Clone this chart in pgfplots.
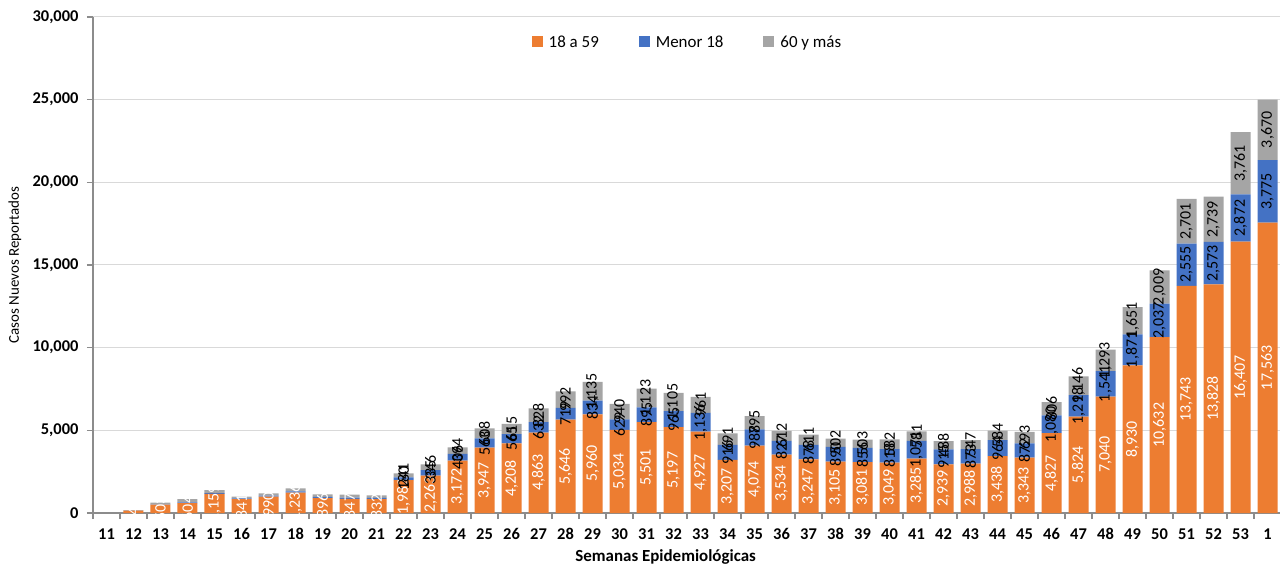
\documentclass[border=0pt]{standalone}
\usepackage{fontspec}
\setmainfont{Carlito}
\usepackage{pgfplots}
\usepackage{pgfplotstable}
\pgfplotsset{compat=1.18}
\definecolor{cOr}{HTML}{ED7D31}
\definecolor{cBl}{HTML}{4472C4}
\definecolor{cGr}{HTML}{A5A5A5}
\definecolor{axgray}{HTML}{8C8C8C}
\definecolor{gridc}{HTML}{D9D9D9}
\newcommand\lbl{\fontsize{16pt}{16pt}\selectfont}

\pgfplotstableread{
x a b c la lb lc
0 0 0 0 {} {} {}
1 143 5 25 143 {} {}
2 503 20 100 503 {} {}
3 604 40 200 604 {} {}
4 1159 40 190 1,159 {} {}
5 841 40 105 841 {} {}
6 990 60 140 990 {} {}
7 1236 70 187 1,236 {} {}
8 896 80 154 896 {} {}
9 847 90 170 847 {} {}
10 832 80 158 832 {} {}
11 1982 180 241 1,982 180 241
12 2263 335 346 2,263 335 346
13 3172 406 394 3,172 406 394
14 3947 563 608 3,947 563 608
15 4208 565 615 4,208 565 615
16 4863 632 828 4,863 632 828
17 5646 719 992 5,646 719 992
18 5960 834 1135 5,960 834 1,135
19 5034 629 940 5,034 629 940
20 5501 895 1123 5,501 895 1,123
21 5197 965 1105 5,197 965 1,105
22 4927 1136 961 4,927 1,136 961
23 3207 916 691 3,207 916 691
24 4074 988 795 4,074 988 795
25 3534 827 612 3,534 827 612
26 3247 878 611 3,247 878 611
27 3105 890 502 3,105 890 502
28 3081 856 503 3,081 856 503
29 3049 818 582 3,049 818 582
30 3285 1071 581 3,285 1,071 581
31 2939 915 488 2,939 915 488
32 2988 873 547 2,988 873 547
33 3438 964 584 3,438 964 584
34 3343 872 693 3,343 872 693
35 4827 1080 806 4,827 1,080 806
36 5824 1298 1146 5,824 1,298 1,146
37 7040 1541 1293 7,040 1,541 1,293
38 8930 1871 1651 8,930 1,871 1,651
39 10632 2037 2009 10,632 2,037 2,009
40 13743 2555 2701 13,743 2,555 2,701
41 13828 2573 2739 13,828 2,573 2,739
42 16407 2872 3761 16,407 2,872 3,761
43 17563 3775 3670 17,563 3,775 3,670
}\data

\begin{document}
\begin{tikzpicture}
\pgfplotsset{
  common/.style={
    at={(0,0)}, anchor=south west,
    scale only axis, width=1188bp, height=496bp,
    xmin=-0.5, xmax=43.5, ymin=0, ymax=30000,
  }
}
\begin{axis}[
  common,
  ybar stacked, bar width=20bp,
  axis x line*=bottom, axis y line*=left,
  axis line style={axgray, line width=1.5bp},
  ymajorgrids, grid style={gridc, line width=1bp},
  scaled y ticks=false,
  ytick={0,5000,...,30000},
  yticklabels={0,{5,000},{10,000},{15,000},{20,000},{25,000},{30,000}},
  xtick={-0.5,0.5,...,43.5},
  x tick label as interval,
  xticklabels={11,12,13,14,15,16,17,18,19,20,21,22,23,24,25,26,27,28,29,30,31,32,33,34,35,36,37,38,39,40,41,42,43,44,45,46,47,48,49,50,51,52,53,1},
  tick align=outside, major tick length=6bp,
  tick style={axgray, line width=1.5bp},
  ticklabel style={font=\bfseries\fontsize{16.5pt}{16.5pt}\selectfont, text=black},
  xticklabel style={yshift=-6bp},
  yticklabel style={xshift=-5bp},
  ylabel={Casos Nuevos Reportados},
  ylabel style={at={(axis description cs:0,0.5)}, anchor=center, yshift=78bp, font=\fontsize{15pt}{15pt}\selectfont},
  xlabel={Semanas Epidemiológicas},
  xlabel style={at={(axis description cs:0.482,0)}, anchor=center, yshift=-44bp, font=\bfseries\fontsize{17pt}{17pt}\selectfont},
  legend image code/.code={\fill[#1] (0bp,-5.5bp) rectangle (11bp,5.5bp); \path (15bp,0bp);},
  legend style={at={(0.5004,0.9496)}, anchor=center, draw=none, fill=none,
    legend columns=3, font=\fontsize{17pt}{20pt}\selectfont,
    /tikz/every even column/.append style={column sep=38bp}},
]
\addplot[fill=cOr, draw=none] table[x=x, y=a] {\data};
\addlegendentry{18 a 59}
\addplot[fill=cBl, draw=none] table[x=x, y=b] {\data};
\addlegendentry{Menor 18}
\addplot[fill=cGr, draw=none] table[x=x, y=c] {\data};
\addlegendentry{60 y más}
\end{axis}
\begin{axis}[common, hide axis, clip=false]
\addplot[draw=none, nodes near coords={\pgfplotspointmeta}, point meta=explicit symbolic,
  every node near coord/.append style={rotate=90, anchor=center, text=white, font=\lbl, inner sep=0pt}]
  table[x=x, y expr=\thisrow{a}/2, meta=la] {\data};
\addplot[draw=none, nodes near coords={\pgfplotspointmeta}, point meta=explicit symbolic,
  every node near coord/.append style={rotate=90, anchor=center, text=black, font=\lbl, inner sep=0pt}]
  table[x=x, y expr=\thisrow{a}+\thisrow{b}/2, meta=lb] {\data};
\addplot[draw=none, nodes near coords={\pgfplotspointmeta}, point meta=explicit symbolic,
  every node near coord/.append style={rotate=90, anchor=center, text=black, font=\lbl, inner sep=0pt}]
  table[x=x, y expr=\thisrow{a}+\thisrow{b}+\thisrow{c}/2, meta=lc] {\data};
\end{axis}
\pgfresetboundingbox
\path (-93bp,-52bp) rectangle (1187bp,513bp);
\end{tikzpicture}
\end{document}
